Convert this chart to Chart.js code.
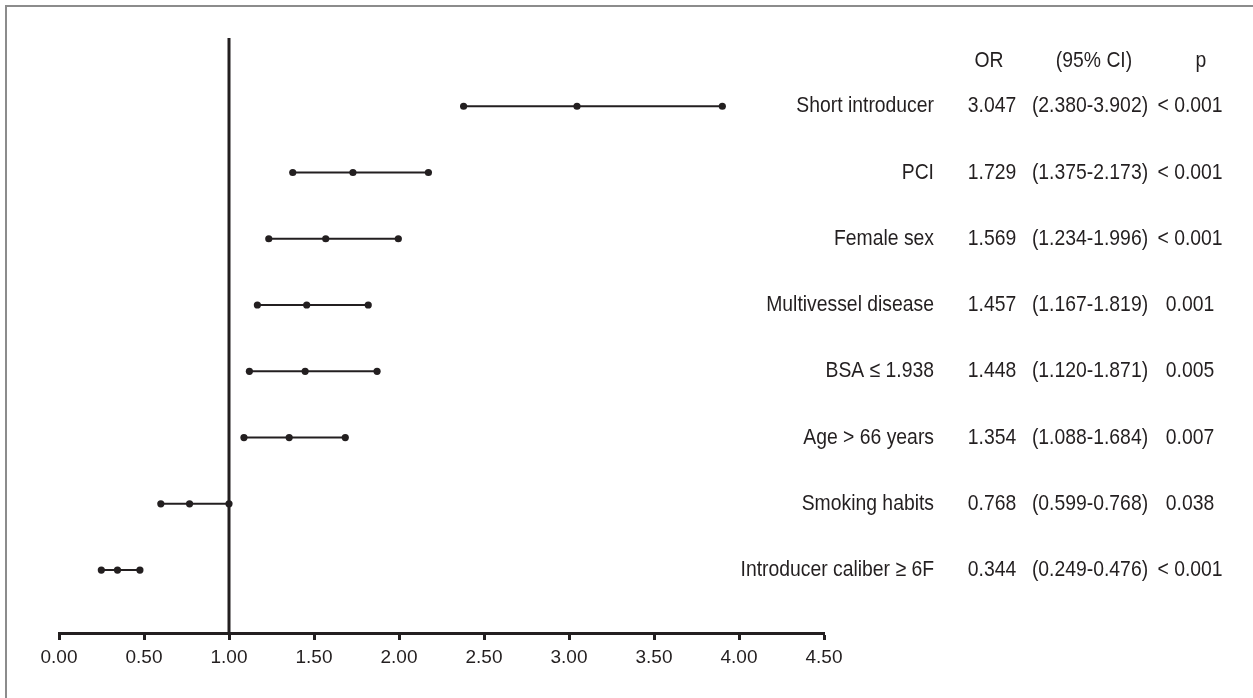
<!DOCTYPE html>
<html lang="en">
<head>
  <meta charset="UTF-8">
  <title>Forest plot - odds ratios</title>
  <script src="https://cdn.jsdelivr.net/npm/chart.js"></script>
  <style>
    html, body { margin: 0; padding: 0; background: #fff; }
    .wrap { position: relative; width: 1253px; height: 698px; }
    .frame {
      position: absolute; left: 5px; top: 5px; right: 0; bottom: 0;
      border-top: 2px solid #8c8c8c; border-left: 2px solid #8c8c8c;
      pointer-events: none;
    }
  </style>
</head>
<body>
  <div class="wrap">
    <canvas id="forest" width="1253" height="698"></canvas>
    <div class="frame"></div>
  </div>

  <script>
    // Rows, top to bottom
    const labels = ['Short introducer', 'PCI', 'Female sex', 'Multivessel disease',
                    'BSA \u2264 1.938', 'Age > 66 years', 'Smoking habits', 'Introducer caliber \u2265 6F'];
    const oddsRatio = [3.047, 1.729, 1.569, 1.457, 1.448, 1.354, 0.768, 0.344];
    const ciLow = [2.380, 1.375, 1.234, 1.167, 1.120, 1.088, 0.599, 0.249];
    // upper ends as drawn (smoking row's whisker reaches the 1.00 line in the figure)
    const ciHigh = [3.902, 2.173, 1.996, 1.819, 1.871, 1.684, 1.0, 0.476];
    // printed table text
    const orText = ['3.047', '1.729', '1.569', '1.457', '1.448', '1.354', '0.768', '0.344'];
    const ciText = ['(2.380-3.902)', '(1.375-2.173)', '(1.234-1.996)', '(1.167-1.819)',
                    '(1.120-1.871)', '(1.088-1.684)', '(0.599-0.768)', '(0.249-0.476)'];
    const pText = ['< 0.001', '< 0.001', '< 0.001', '0.001', '0.005', '0.007', '0.038', '< 0.001'];
    const headers = ['OR', '(95% CI)', 'p'];
    const xTicks = [0, 0.5, 1, 1.5, 2, 2.5, 3, 3.5, 4, 4.5];

    const ink = '#231f20';
    const family = '"Liberation Sans", Arial, sans-serif';
    const squeeze = 0.86; // original type is a condensed grotesque

    const datasets = labels.map((lab, i) => ({
      label: lab,
      data: [{ x: ciLow[i], y: i }, { x: oddsRatio[i], y: i }, { x: ciHigh[i], y: i }],
      showLine: true,
      borderColor: ink,
      borderWidth: 2,
      pointRadius: 3.6,
      pointBackgroundColor: ink,
      pointBorderWidth: 0
    }));

    // reference line at OR = 1
    datasets.unshift({
      label: 'ref',
      data: [{ x: 1, y: -1.03 }, { x: 1, y: 7.95 }],
      showLine: true,
      borderColor: ink,
      borderWidth: 3,
      pointRadius: 0
    });

    function narrowText(ctx, text, x, y, align) {
      ctx.save();
      ctx.translate(x, y);
      ctx.scale(squeeze, 1);
      ctx.textAlign = align;
      ctx.fillText(text, 0, 0);
      ctx.restore();
    }

    // table text on the right side
    const tablePlugin = {
      id: 'table',
      afterDraw(chart) {
        const ctx = chart.ctx;
        const y = chart.scales.y;
        ctx.save();
        ctx.font = '22.5px ' + family;
        ctx.fillStyle = ink;
        ctx.textBaseline = 'middle';

        const hy = y.getPixelForValue(-0.68);
        narrowText(ctx, headers[0], 989, hy, 'center');
        narrowText(ctx, headers[1], 1094, hy, 'center');
        narrowText(ctx, headers[2], 1201, hy, 'center');

        labels.forEach((lab, i) => {
          const py = y.getPixelForValue(i);
          narrowText(ctx, lab, 934, py, 'right');
          narrowText(ctx, orText[i], 992, py, 'center');
          narrowText(ctx, ciText[i], 1090, py, 'center');
          narrowText(ctx, pText[i], 1190, py, 'center');
        });
        ctx.restore();
      }
    };

    new Chart(document.getElementById('forest'), {
      type: 'scatter',
      data: { datasets: datasets },
      options: {
        responsive: false,
        animation: false,
        layout: { padding: { left: 59, right: 429, top: 38, bottom: 0 } },
        plugins: { legend: { display: false }, tooltip: { enabled: false } },
        scales: {
          x: {
            type: 'linear',
            min: 0,
            max: 4.5,
            afterBuildTicks: (axis) => { axis.ticks = xTicks.map(v => ({ value: v })); },
            afterFit: (axis) => { axis.height = 65; },
            border: { display: true, width: 3, color: ink },
            grid: { display: true, drawOnChartArea: false, drawTicks: true, tickLength: 7, tickWidth: 3, tickColor: ink },
            ticks: {
              color: ink,
              padding: 6,
              font: { family: family, size: 19 },
              callback: (v) => Number(v).toFixed(2),
              maxRotation: 0
            }
          },
          y: {
            type: 'linear',
            min: -1.03,
            max: 7.95,
            reverse: true,
            display: false
          }
        }
      },
      plugins: [tablePlugin]
    });
  </script>
</body>
</html>
